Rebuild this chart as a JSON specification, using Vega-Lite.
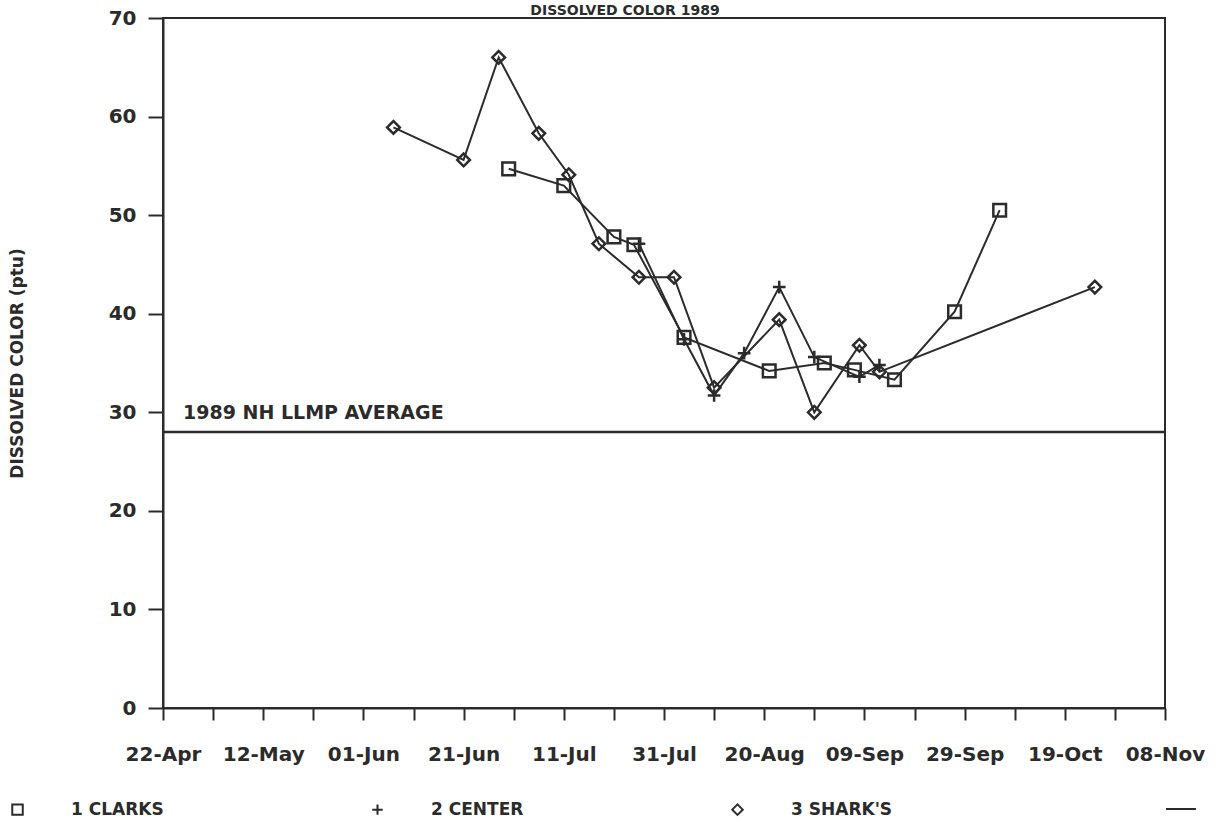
{
  "$schema": "https://vega.github.io/schema/vega-lite/v6.json",
  "width": 1002,
  "height": 690,
  "autosize": {"type": "none"},
  "padding": {"left": 163, "top": 18, "right": 59, "bottom": 117},
  "background": "white",
  "config": {
    "font": "DejaVu Sans",
    "view": {"stroke": "#2b2b2b", "strokeWidth": 2}
  },
  "title": {
    "text": "DISSOLVED COLOR 1989",
    "fontSize": 14,
    "fontWeight": "bold",
    "color": "#2b2b2b",
    "anchor": "middle",
    "frame": "group",
    "dx": -39,
    "offset": -10,
    "baseline": "top"
  },
  "datasets": {
    "obs": [
      {"series": "1 CLARKS", "date": "1989-06-30", "value": 54.7},
      {"series": "1 CLARKS", "date": "1989-07-11", "value": 53.0},
      {"series": "1 CLARKS", "date": "1989-07-21", "value": 47.8},
      {"series": "1 CLARKS", "date": "1989-07-25", "value": 47.0},
      {"series": "1 CLARKS", "date": "1989-08-04", "value": 37.6},
      {"series": "1 CLARKS", "date": "1989-08-21", "value": 34.2},
      {"series": "1 CLARKS", "date": "1989-09-01", "value": 35.0},
      {"series": "1 CLARKS", "date": "1989-09-07", "value": 34.3},
      {"series": "1 CLARKS", "date": "1989-09-15", "value": 33.3},
      {"series": "1 CLARKS", "date": "1989-09-27", "value": 40.2},
      {"series": "1 CLARKS", "date": "1989-10-06", "value": 50.5},
      {"series": "2 CENTER", "date": "1989-07-26", "value": 47.1},
      {"series": "2 CENTER", "date": "1989-08-04", "value": 37.4},
      {"series": "2 CENTER", "date": "1989-08-10", "value": 31.7},
      {"series": "2 CENTER", "date": "1989-08-16", "value": 36.0},
      {"series": "2 CENTER", "date": "1989-08-23", "value": 42.7},
      {"series": "2 CENTER", "date": "1989-08-30", "value": 35.6},
      {"series": "2 CENTER", "date": "1989-09-08", "value": 33.6},
      {"series": "2 CENTER", "date": "1989-09-12", "value": 34.8},
      {"series": "3 SHARK'S", "date": "1989-06-07", "value": 58.9},
      {"series": "3 SHARK'S", "date": "1989-06-21", "value": 55.6},
      {"series": "3 SHARK'S", "date": "1989-06-28", "value": 66.0},
      {"series": "3 SHARK'S", "date": "1989-07-06", "value": 58.3},
      {"series": "3 SHARK'S", "date": "1989-07-12", "value": 54.1},
      {"series": "3 SHARK'S", "date": "1989-07-18", "value": 47.1},
      {"series": "3 SHARK'S", "date": "1989-07-26", "value": 43.7},
      {"series": "3 SHARK'S", "date": "1989-08-02", "value": 43.7},
      {"series": "3 SHARK'S", "date": "1989-08-10", "value": 32.5},
      {"series": "3 SHARK'S", "date": "1989-08-23", "value": 39.4},
      {"series": "3 SHARK'S", "date": "1989-08-30", "value": 30.0},
      {"series": "3 SHARK'S", "date": "1989-09-08", "value": 36.8},
      {"series": "3 SHARK'S", "date": "1989-09-12", "value": 34.1},
      {"series": "3 SHARK'S", "date": "1989-10-25", "value": 42.7}
    ],
    "avg": [{"label": "1989 NH LLMP AVERAGE", "value": 28}]
  },
  "layer": [
    {
      "data": {"name": "obs"},
      "mark": {"type": "line", "color": "#2b2b2b", "strokeWidth": 2},
      "encoding": {
        "x": {
          "field": "date",
          "type": "temporal",
          "scale": {
            "type": "utc",
            "domain": [
              {"year": 1989, "month": 4, "date": 22, "utc": true},
              {"year": 1989, "month": 11, "date": 8, "utc": true}
            ]
          },
          "axis": {
            "title": null,
            "values": [
              {"year": 1989, "month": 4, "date": 22, "utc": true},
              {"year": 1989, "month": 5, "date": 2, "utc": true},
              {"year": 1989, "month": 5, "date": 12, "utc": true},
              {"year": 1989, "month": 5, "date": 22, "utc": true},
              {"year": 1989, "month": 6, "date": 1, "utc": true},
              {"year": 1989, "month": 6, "date": 11, "utc": true},
              {"year": 1989, "month": 6, "date": 21, "utc": true},
              {"year": 1989, "month": 7, "date": 1, "utc": true},
              {"year": 1989, "month": 7, "date": 11, "utc": true},
              {"year": 1989, "month": 7, "date": 21, "utc": true},
              {"year": 1989, "month": 7, "date": 31, "utc": true},
              {"year": 1989, "month": 8, "date": 10, "utc": true},
              {"year": 1989, "month": 8, "date": 20, "utc": true},
              {"year": 1989, "month": 8, "date": 30, "utc": true},
              {"year": 1989, "month": 9, "date": 9, "utc": true},
              {"year": 1989, "month": 9, "date": 19, "utc": true},
              {"year": 1989, "month": 9, "date": 29, "utc": true},
              {"year": 1989, "month": 10, "date": 9, "utc": true},
              {"year": 1989, "month": 10, "date": 19, "utc": true},
              {"year": 1989, "month": 10, "date": 29, "utc": true},
              {"year": 1989, "month": 11, "date": 8, "utc": true}
            ],
            "labelExpr": "round((toNumber(datum.value) - utc(1989, 3, 22)) / 86400000) % 20 == 0 ? utcFormat(datum.value, '%d-%b') : ''",
            "grid": false,
            "domainColor": "#2b2b2b",
            "domainWidth": 2,
            "tickColor": "#2b2b2b",
            "tickWidth": 2,
            "tickSize": 12,
            "labelFontSize": 20,
            "labelFontWeight": "bold",
            "labelColor": "#2b2b2b",
            "labelPadding": 24,
            "labelOverlap": false,
            "labelFlush": false
          }
        },
        "y": {
          "field": "value",
          "type": "quantitative",
          "scale": {"domain": [0, 70], "nice": false},
          "axis": {
            "title": "DISSOLVED COLOR (ptu)",
            "titleFontSize": 17,
            "titleFontWeight": "bold",
            "titleColor": "#2b2b2b",
            "titlePadding": 82,
            "values": [0, 10, 20, 30, 40, 50, 60, 70],
            "grid": false,
            "domainColor": "#2b2b2b",
            "domainWidth": 2,
            "tickColor": "#2b2b2b",
            "tickWidth": 2,
            "tickSize": 15,
            "labelFontSize": 20,
            "labelFontWeight": "bold",
            "labelColor": "#2b2b2b",
            "labelPadding": 12
          }
        },
        "detail": {"field": "series"}
      }
    },
    {
      "data": {"name": "obs"},
      "mark": {"type": "point", "filled": false, "color": "#2b2b2b", "strokeWidth": 2.5, "size": 160, "opacity": 1},
      "encoding": {
        "x": {"field": "date", "type": "temporal"},
        "y": {"field": "value", "type": "quantitative"},
        "shape": {
          "field": "series",
          "type": "nominal",
          "scale": {
            "domain": ["1 CLARKS", "2 CENTER", "3 SHARK'S"],
            "range": ["square", "M-1,0H1M0,-1V1", "diamond"]
          },
          "legend": {
            "title": null,
            "orient": "none",
            "legendX": -154,
            "legendY": 783,
            "direction": "horizontal",
            "columns": 3,
            "gridAlign": "all",
            "columnPadding": 195,
            "labelOffset": 45,
            "labelFontSize": 17,
            "labelFontWeight": "bold",
            "labelColor": "#2b2b2b",
            "symbolSize": 110,
            "symbolStrokeWidth": 2
          }
        }
      }
    },
    {
      "data": {"name": "avg"},
      "mark": {"type": "rule", "strokeWidth": 2.5},
      "encoding": {
        "y": {"field": "value", "type": "quantitative"},
        "color": {
          "datum": "AVG",
          "scale": {"range": ["#2b2b2b"]},
          "legend": {
            "title": null,
            "orient": "none",
            "legendX": 1002,
            "legendY": 775,
            "labelExpr": "''",
            "symbolType": "stroke",
            "symbolSize": 900,
            "symbolStrokeWidth": 2
          }
        }
      }
    },
    {
      "data": {"name": "avg"},
      "mark": {"type": "text", "align": "left", "baseline": "alphabetic", "dy": -13, "fontSize": 19, "fontWeight": "bold", "color": "#2b2b2b"},
      "encoding": {
        "x": {"datum": {"year": 1989, "month": 4, "date": 26, "utc": true}, "type": "temporal"},
        "y": {"field": "value", "type": "quantitative"},
        "text": {"field": "label"}
      }
    }
  ]
}
